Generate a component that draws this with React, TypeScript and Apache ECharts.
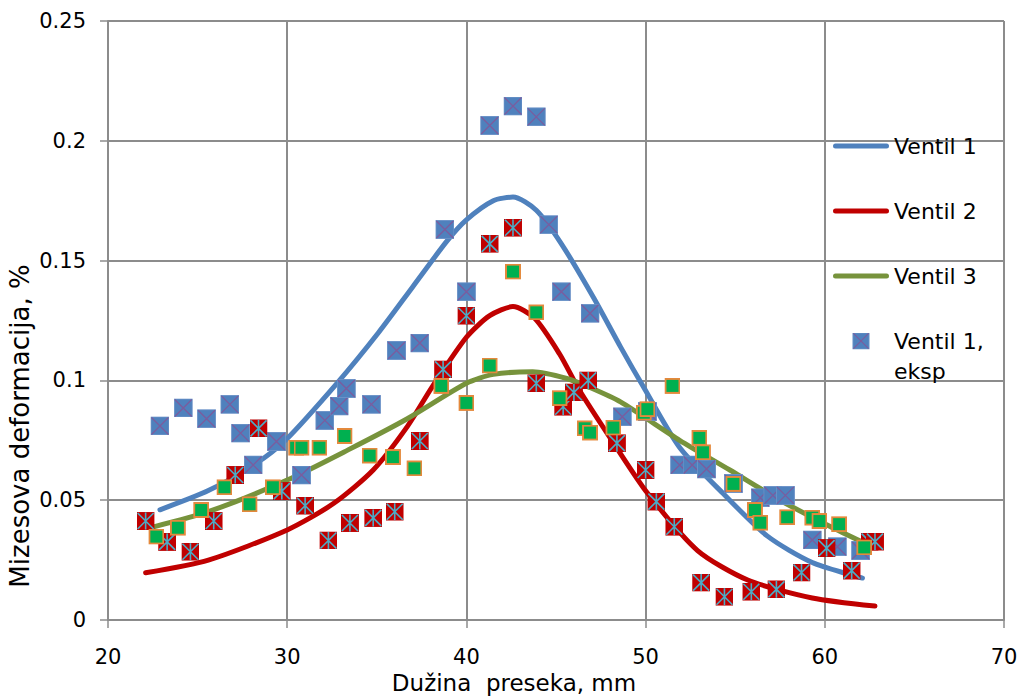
import React, { useEffect, useRef } from "react";
import * as echarts from "echarts";

// ---- data ----
const xTicks = [20, 30, 40, 50, 60, 70];

const v1LineX = [22.9, 25.6, 28.2, 29.9, 32.8, 35.1, 37.0, 38.9, 40.0, 41.5, 42.6, 43.9, 45.3, 47.1, 48.6, 49.9, 51.9, 54.3, 56.8, 59.3, 62.1];
const v1LineY = [0.046, 0.054, 0.065, 0.075, 0.099, 0.12, 0.139, 0.158, 0.167, 0.175, 0.1765, 0.171, 0.157, 0.1345, 0.114, 0.097, 0.072, 0.053, 0.035, 0.024, 0.0175];

const v2LineX = [22.1, 25.6, 30.0, 32.6, 34.8, 36.7, 38.1, 40.0, 41.3, 42.6, 43.8, 45.2, 46.3, 48.2, 50.1, 52.9, 55.7, 59.3, 62.8];
const v2LineY = [0.0197, 0.025, 0.0376, 0.0487, 0.0626, 0.0807, 0.0974, 0.118, 0.127, 0.1308, 0.126, 0.111, 0.096, 0.074, 0.053, 0.029, 0.0167, 0.0092, 0.0058];

const v3LineX = [22.6, 25.6, 30.0, 33.4, 36.7, 40.0, 41.5, 43.7, 45.6, 46.9, 48.6, 51.9, 54.7, 57.5, 60.3, 62.1];
const v3LineY = [0.039, 0.0452, 0.0584, 0.071, 0.084, 0.0988, 0.1025, 0.1036, 0.1008, 0.097, 0.091, 0.075, 0.0626, 0.05, 0.039, 0.0325];

const v1ExpX = [22.9, 24.2, 25.5, 26.8, 27.4, 28.1, 29.4, 30.8, 32.1, 32.9, 33.3, 34.7, 36.1, 37.4, 38.8, 40.0, 41.3, 42.6, 43.9, 44.6, 45.3, 46.9, 48.7, 50.1, 51.9, 52.6, 53.4, 54.9, 56.4, 57.1, 57.8, 59.3, 60.7, 62.0];
const v1ExpY = [0.081, 0.0885, 0.084, 0.09, 0.078, 0.0647, 0.0745, 0.0605, 0.0833, 0.0893, 0.0966, 0.09, 0.1125, 0.1156, 0.163, 0.137, 0.2064, 0.2145, 0.21, 0.165, 0.137, 0.128, 0.0848, 0.087, 0.0647, 0.0647, 0.063, 0.057, 0.051, 0.052, 0.052, 0.0334, 0.0306, 0.029];

const v2ExpX = [22.1, 23.3, 24.6, 25.9, 27.1, 28.4, 29.7, 31.0, 32.3, 33.5, 34.8, 36.0, 37.4, 38.7, 40.0, 41.3, 42.6, 43.9, 45.4, 46.0, 46.8, 48.4, 50.0, 50.6, 51.6, 53.1, 54.4, 55.9, 57.3, 58.7, 60.1, 61.5, 62.5, 62.8];
const v2ExpY = [0.0413, 0.0326, 0.0285, 0.0413, 0.0605, 0.08, 0.0538, 0.0477, 0.0332, 0.0405, 0.0426, 0.0452, 0.0747, 0.1046, 0.127, 0.157, 0.1637, 0.0988, 0.089, 0.095, 0.1, 0.0738, 0.0626, 0.0494, 0.0389, 0.0156, 0.0097, 0.0118, 0.0128, 0.0198, 0.03, 0.0206, 0.0327, 0.0327];

const v3ExpX = [22.7, 23.9, 25.2, 26.5, 27.9, 29.2, 30.5, 30.8, 31.8, 33.2, 34.6, 35.9, 37.1, 38.6, 40.0, 41.3, 42.6, 43.9, 45.2, 46.6, 46.9, 48.2, 49.9, 50.1, 51.5, 53.0, 53.2, 54.9, 56.1, 56.4, 57.9, 59.3, 59.7, 60.8, 62.2];
const v3ExpY = [0.0348, 0.0385, 0.0459, 0.0554, 0.0483, 0.0554, 0.0719, 0.0719, 0.0719, 0.0768, 0.0686, 0.068, 0.0633, 0.0977, 0.0906, 0.1062, 0.1454, 0.1284, 0.0926, 0.08, 0.0782, 0.0803, 0.0865, 0.088, 0.0977, 0.076, 0.07, 0.0568, 0.0459, 0.0406, 0.0429, 0.0427, 0.0413, 0.04, 0.0303];

const seriesNames = ["Ventil 1", "Ventil 2", "Ventil 3", "Ventil 1, eksp", "Ventil 2, eksp", "Ventil 3, eksp"];

// ---- styling ----
const FONT = "'DejaVu Sans', sans-serif";
const GRID = "#8c8c8c";
const BLUE = "#4f81bd";
const RED = "#c00000";
const GREEN = "#77933c";
const LINE_ICON = "path://M2.5 0H53.5A2.5 2.5 0 0 1 53.5 5H2.5A2.5 2.5 0 0 1 2.5 0Z";

const svgUri = (svg: string) => "image://data:image/svg+xml;charset=utf-8," + encodeURIComponent(svg);

const blueMarker = svgUri(
  '<svg xmlns="http://www.w3.org/2000/svg" width="19" height="19" viewBox="0 0 19 19">' +
    '<rect x="0.5" y="0.5" width="18" height="18" fill="#4f81bd" stroke="#6b92c8" stroke-width="1"/>' +
    '<path d="M1 1L18 18M18 1L1 18" stroke="#7b5c9e" stroke-width="1.3" fill="none"/></svg>'
);
const redMarker = svgUri(
  '<svg xmlns="http://www.w3.org/2000/svg" width="18" height="18" viewBox="0 0 18 18">' +
    '<rect x="0" y="0" width="18" height="18" fill="#c00000"/>' +
    '<path d="M1 1L17 17M17 1L1 17M9 0.5L9 17.5" stroke="#4bacc6" stroke-width="1.6" fill="none"/></svg>'
);
const greenMarker = svgUri(
  '<svg xmlns="http://www.w3.org/2000/svg" width="16" height="16" viewBox="0 0 16 16">' +
    '<rect x="1" y="1" width="14" height="14" fill="#00b050" stroke="#e4893c" stroke-width="2"/></svg>'
);

const zip = (xs: number[], ys: number[]) => xs.map((x, i) => [x, ys[i]]);

export default function App() {
  const ref = useRef<HTMLDivElement>(null);

  useEffect(() => {
    if (!ref.current) return;
    const chart = echarts.init(ref.current, null, { renderer: "svg" });

    const lineSeries = (name: string, xs: number[], ys: number[], color: string) => ({
      name,
      type: "line",
      data: zip(xs, ys),
      smooth: 0.25,
      symbol: "none",
      showSymbol: false,
      color,
      itemStyle: { color },
      lineStyle: { color, width: 5, cap: "round", join: "round" },
      z: 2,
    });

    const scatterSeries = (name: string, xs: number[], ys: number[], symbol: string, size: number, z: number) => ({
      name,
      type: "scatter",
      data: zip(xs, ys),
      symbol,
      symbolSize: size,
      itemStyle: { opacity: 1 },
      z,
    });

    chart.setOption({
      animation: false,
      backgroundColor: "#ffffff",
      textStyle: { fontFamily: FONT },
      grid: { left: 108, right: 14, top: 21, bottom: 77, containLabel: false, outerBoundsMode: "none" },
      xAxis: {
        type: "value",
        min: xTicks[0],
        max: xTicks[xTicks.length - 1],
        interval: 10,
        name: "Dužina  preseka, mm",
        nameLocation: "middle",
        nameGap: 51,
        nameMoveOverlap: false,
        nameTextStyle: { fontFamily: FONT, fontSize: 23, lineHeight: 24, color: "#000", padding: [0, 84, 0, 0] },
        axisLine: { show: true, lineStyle: { color: GRID, width: 2 } },
        axisTick: { show: true, inside: false, length: 8, lineStyle: { color: GRID, width: 1.5 } },
        axisLabel: { margin: 26, fontFamily: FONT, fontSize: 21, lineHeight: 21, color: "#000" },
        splitLine: { show: true, lineStyle: { color: GRID, width: 2 } },
      },
      yAxis: {
        type: "value",
        min: 0,
        max: 0.25,
        interval: 0.05,
        name: "Mizesova deformacija, %",
        nameLocation: "middle",
        nameRotate: 90,
        nameGap: 74,
        nameMoveOverlap: false,
        nameTextStyle: { fontFamily: FONT, fontSize: 26, lineHeight: 28, color: "#000", padding: [0, 211, 0, 0] },
        axisLine: { show: true, lineStyle: { color: GRID, width: 2 } },
        axisTick: { show: true, inside: false, length: 8, lineStyle: { color: GRID, width: 1.5 } },
        axisLabel: { margin: 22, fontFamily: FONT, fontSize: 21, color: "#000" },
        splitLine: { show: true, lineStyle: { color: GRID, width: 2 } },
      },
      legend: [
        {
          orient: "vertical",
          left: 833,
          top: 131,
          padding: 0,
          itemGap: 35,
          itemWidth: 56,
          itemHeight: 17,
          selectedMode: false,
          data: [
            { name: seriesNames[0], icon: LINE_ICON },
            { name: seriesNames[1], icon: LINE_ICON },
            { name: seriesNames[2], icon: LINE_ICON },
          ],
          textStyle: { fontFamily: FONT, fontSize: 22, color: "#000", lineHeight: 30 },
        },
        {
          orient: "vertical",
          left: 833,
          top: 296,
          padding: 0,
          itemWidth: 56,
          itemHeight: 17,
          selectedMode: false,
          data: [seriesNames[3]],
          formatter: () => " \nVentil 1,\neksp",
          textStyle: { fontFamily: FONT, fontSize: 22, color: "#000", lineHeight: 30 },
        },
      ],
      series: [
        lineSeries(seriesNames[0], v1LineX, v1LineY, BLUE),
        lineSeries(seriesNames[1], v2LineX, v2LineY, RED),
        lineSeries(seriesNames[2], v3LineX, v3LineY, GREEN),
        scatterSeries(seriesNames[3], v1ExpX, v1ExpY, blueMarker, 19, 3),
        scatterSeries(seriesNames[4], v2ExpX, v2ExpY, redMarker, 18, 4),
        scatterSeries(seriesNames[5], v3ExpX, v3ExpY, greenMarker, 16, 5),
      ],
    });

    return () => chart.dispose();
  }, []);

  return (
    <div
      ref={ref}
      style={{ position: "fixed", left: 0, top: 0, width: 1018, height: 697, background: "#fff" }}
    />
  );
}
